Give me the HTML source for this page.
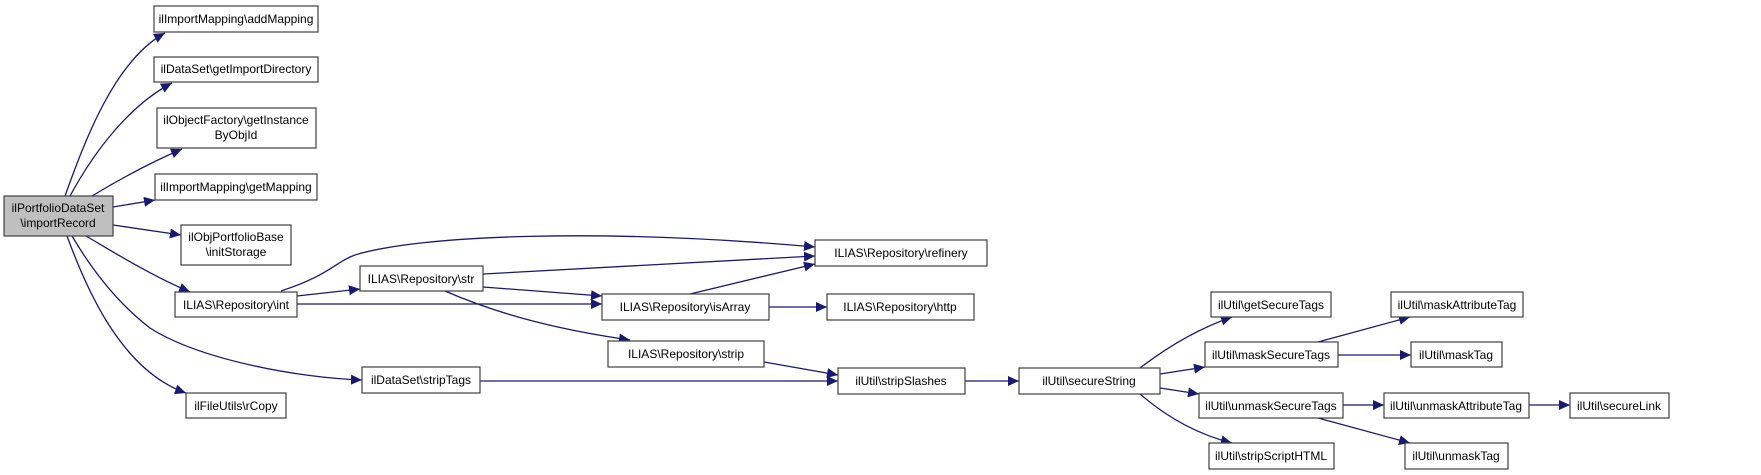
<!DOCTYPE html>
<html><head><meta charset="utf-8"><style>
html,body{margin:0;padding:0;background:#fff;}
svg{display:block;}
text{font-family:"Liberation Sans",sans-serif;font-size:12px;fill:#000;}
</style></head><body>
<svg width="1761" height="475" viewBox="0 0 1761 475" xmlns="http://www.w3.org/2000/svg">
<defs>
<marker id="a" markerUnits="userSpaceOnUse" markerWidth="12" markerHeight="10" refX="11" refY="5" orient="auto">
<path d="M0,0 L11,5 L0,10 Z" fill="#191970"/>
</marker>
</defs>
<g fill="none" stroke="#191970" stroke-width="1.3" marker-end="url(#a)">
<path d="M65,196 C85,140 115,60 165,33"/>
<path d="M70,196 C95,150 130,105 172,83"/>
<path d="M92,196 C115,182 145,165 182,149"/>
<path d="M113,207 L155,200"/>
<path d="M113,225 L181,235"/>
<path d="M86,236 C110,250 150,275 190,292"/>
<path d="M72,236 C95,275 120,305 150,328 C200,360 300,378 362,380"/>
<path d="M67,236 C85,285 120,370 186,393"/>
<path d="M281,291 C330,275 335,262 355,255 C420,235 600,228 815,247"/>
<path d="M297,296 L360,289"/>
<path d="M297,304 L602,304"/>
<path d="M483,274 L815,256"/>
<path d="M483,287 L602,296"/>
<path d="M445,291 C500,315 560,330 630,340"/>
<path d="M690,294 L815,264"/>
<path d="M769,307 L827,307"/>
<path d="M764,362 L838,375"/>
<path d="M480,381 L838,381"/>
<path d="M965,381 L1019,381"/>
<path d="M1140,368 C1170,345 1200,328 1232,317"/>
<path d="M1160,374 L1205,367"/>
<path d="M1160,388 L1199,394"/>
<path d="M1140,394 C1170,420 1200,435 1232,443"/>
<path d="M1318,342 L1410,317"/>
<path d="M1338,355 L1411,355"/>
<path d="M1343,405 L1384,405"/>
<path d="M1318,418 L1410,443"/>
<path d="M1529,405 L1570,405"/>
</g>
<g stroke="#404040" stroke-width="1.2" fill="#fff">
<rect x="4" y="196" width="109" height="40" fill="#bfbfbf"/>
<rect x="154" y="6" width="164" height="26"/>
<rect x="154" y="57" width="164" height="25"/>
<rect x="157" y="108" width="159" height="40"/>
<rect x="155" y="174" width="162" height="26"/>
<rect x="181" y="225" width="110" height="40"/>
<rect x="175" y="292" width="122" height="25"/>
<rect x="360" y="266" width="123" height="25"/>
<rect x="362" y="367" width="118" height="26"/>
<rect x="186" y="393" width="100" height="25"/>
<rect x="815" y="240" width="172" height="26"/>
<rect x="602" y="294" width="167" height="26"/>
<rect x="827" y="294" width="147" height="26"/>
<rect x="608" y="341" width="156" height="26"/>
<rect x="838" y="368" width="127" height="26"/>
<rect x="1019" y="368" width="141" height="26"/>
<rect x="1211" y="292" width="120" height="25"/>
<rect x="1205" y="342" width="133" height="25"/>
<rect x="1199" y="393" width="144" height="25"/>
<rect x="1209" y="443" width="125" height="26"/>
<rect x="1391" y="292" width="132" height="25"/>
<rect x="1411" y="342" width="91" height="25"/>
<rect x="1384" y="393" width="145" height="25"/>
<rect x="1405" y="443" width="103" height="26"/>
<rect x="1570" y="393" width="99" height="25"/>
</g>
<g text-anchor="middle">
<text x="58" y="212">ilPortfolioDataSet</text>
<text x="58" y="227">\importRecord</text>
<text x="236" y="23">ilImportMapping\addMapping</text>
<text x="236" y="73">ilDataSet\getImportDirectory</text>
<text x="236" y="124">ilObjectFactory\getInstance</text>
<text x="236" y="139">ByObjId</text>
<text x="236" y="191">ilImportMapping\getMapping</text>
<text x="236" y="241">ilObjPortfolioBase</text>
<text x="236" y="256">\initStorage</text>
<text x="236" y="309">ILIAS\Repository\int</text>
<text x="421" y="283">ILIAS\Repository\str</text>
<text x="421" y="384">ilDataSet\stripTags</text>
<text x="236" y="410">ilFileUtils\rCopy</text>
<text x="901" y="257">ILIAS\Repository\refinery</text>
<text x="685" y="311">ILIAS\Repository\isArray</text>
<text x="900" y="311">ILIAS\Repository\http</text>
<text x="686" y="358">ILIAS\Repository\strip</text>
<text x="901" y="385">ilUtil\stripSlashes</text>
<text x="1089" y="385">ilUtil\secureString</text>
<text x="1271" y="309">ilUtil\getSecureTags</text>
<text x="1271" y="359">ilUtil\maskSecureTags</text>
<text x="1271" y="410">ilUtil\unmaskSecureTags</text>
<text x="1271" y="460">ilUtil\stripScriptHTML</text>
<text x="1457" y="309">ilUtil\maskAttributeTag</text>
<text x="1456" y="359">ilUtil\maskTag</text>
<text x="1456" y="410">ilUtil\unmaskAttributeTag</text>
<text x="1456" y="460">ilUtil\unmaskTag</text>
<text x="1619" y="410">ilUtil\secureLink</text>
</g>
</svg>
</body></html>
